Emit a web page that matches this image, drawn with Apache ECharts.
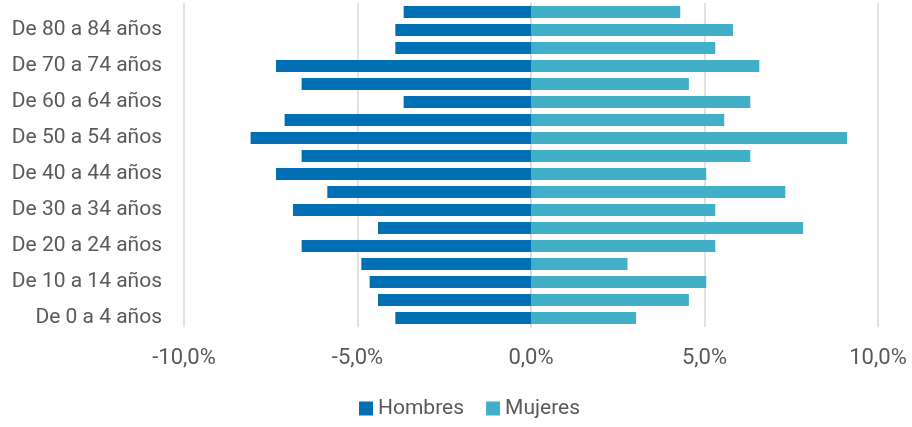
<!DOCTYPE html>
<html><head><meta charset="utf-8">
<script src="https://cdn.jsdelivr.net/npm/echarts@6/dist/echarts.min.js"></script>
<style>html,body{margin:0;padding:0;background:#fff}#c{width:912px;height:427px}</style>
</head><body><div id="c"></div>
<script>
const categories = ['De 0 a 4 años','De 5 a 9 años','De 10 a 14 años','De 15 a 19 años','De 20 a 24 años','De 25 a 29 años','De 30 a 34 años','De 35 a 39 años','De 40 a 44 años','De 45 a 49 años','De 50 a 54 años','De 55 a 59 años','De 60 a 64 años','De 65 a 69 años','De 70 a 74 años','De 75 a 79 años','De 80 a 84 años','De 85 y más años'];
const hombres = [-3.91,-4.41,-4.65,-4.89,-6.61,-4.41,-6.86,-5.87,-7.35,-6.61,-8.08,-7.10,-3.67,-6.61,-7.35,-3.91,-3.91,-3.67];
const mujeres = [3.03,4.55,5.05,2.78,5.31,7.84,5.31,7.33,5.05,6.32,9.11,5.57,6.32,4.55,6.58,5.31,5.82,4.30];
const xTicks = [-10,-5,0,5,10];

const font = 'Roboto';
const chart = echarts.init(document.getElementById('c'));
chart.setOption({
  animation:false,
  textStyle:{fontFamily:font},
  grid:{left:184,top:3,width:694,height:324,containLabel:false},
  legend:{top:398,left:359,itemWidth:14,itemHeight:14,itemGap:22,icon:'rect',padding:0,
    textStyle:{fontFamily:font,fontSize:21,color:'#595959'},data:['Hombres','Mujeres']},
  xAxis:{type:'value',min:xTicks[0],max:xTicks[xTicks.length-1],interval:5,
    axisLine:{show:false},axisTick:{show:false},
    splitLine:{lineStyle:{color:'#d9d9d9',width:1.5}},
    axisLabel:{margin:20,fontSize:22,color:'#595959',fontFamily:font,
      formatter:v=>v.toFixed(1).replace('.',',')+'%'}},
  yAxis:{type:'category',data:categories,
    axisLine:{show:true,lineStyle:{color:'#d9d9d9',width:1.5}},axisTick:{show:false},
    axisLabel:{interval:1,margin:22,fontSize:21,color:'#595959',fontFamily:font}},
  series:[
    {name:'Hombres',type:'bar',data:hombres,barWidth:12,barGap:'-100%',itemStyle:{color:'#006fb4'}},
    {name:'Mujeres',type:'bar',data:mujeres,barWidth:12,barGap:'-100%',itemStyle:{color:'#42afc8'}}
  ]
});
</script></body></html>
